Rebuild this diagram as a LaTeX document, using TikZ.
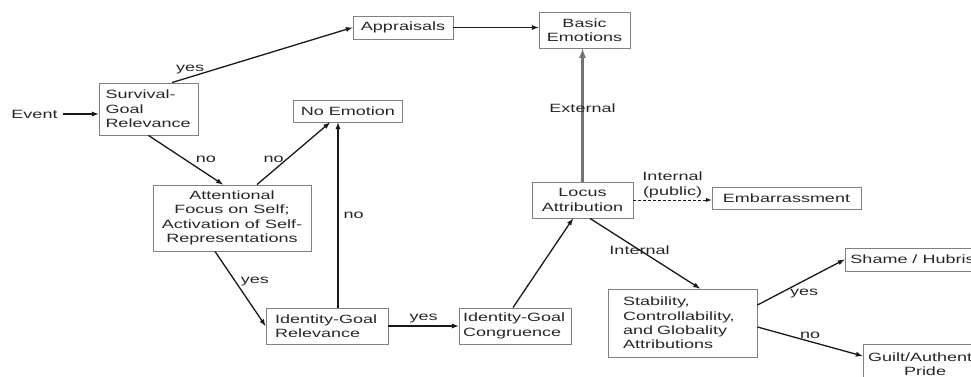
\documentclass[tikz,border=0pt]{standalone}
\usepackage{fontspec}
\setmainfont{Liberation Sans}[FakeStretch=1.5]
\usetikzlibrary{arrows, calc, positioning}

\tikzset{
  box/.style={draw=black!50, line width=0.9pt, rectangle, inner sep=2pt, text=black!85, font=\fontsize{12}{14.3}\selectfont},
  lbl/.style={text=black!85, font=\fontsize{12}{14.3}\selectfont, inner sep=2pt},
  flow/.style={-latex, line width=1.3pt, black!90},
}

\begin{document}
\begin{tikzpicture}[x=1pt, y=-1pt]
\useasboundingbox (0,0) rectangle (971,377);

% boxes
\node [lbl, inner xsep=5pt] (event) at (34.5,114) {Event};
\node [box, minimum width=99pt, minimum height=52pt, text width=86pt, align=left] (surv) at (148.5,109) {Survival-\\Goal\\Relevance};
\node [box, minimum width=100pt, minimum height=23pt] (appr) at (403,27.5) {Appraisals};
\node [box, minimum width=91pt, minimum height=36pt, align=center] (basic) at (584.5,30) {Basic\\Emotions};
\node [box, minimum width=109pt, minimum height=22pt] (noemo) at (348,111) {No Emotion};
\node [box, minimum width=158pt, minimum height=66pt, align=center] (att) at (232,218) {Attentional\\Focus on Self;\\Activation of Self-\\Representations};
\node [box, minimum width=122pt, minimum height=36pt, text width=104pt, align=left] (igr) at (327,326) {Identity-Goal\\Relevance};
\node [box, minimum width=112pt, minimum height=36pt, text width=104pt, align=left] (igc) at (515,326) {Identity-Goal\\Congruence};
\node [box, minimum width=101pt, minimum height=36pt, align=center] (loc) at (582.5,200) {Locus\\Attribution};
\node [box, minimum width=149pt, minimum height=22pt] (emb) at (786.5,198) {Embarrassment};
\node [box, minimum width=149pt, minimum height=68pt, text width=119pt, align=left] (stab) at (682.5,323) {Stability,\\Controllability,\\and Globality\\Attributions};
\node [box, minimum width=135pt, minimum height=23pt] (shame) at (912.5,259.5) {Shame / Hubris};
\node [box, minimum width=124pt, minimum height=40pt, text width=114pt, align=center] (guilt) at (925,364) {Guilt/Authentic\\Pride};

% arrows
\draw [flow] (event.east) -- (event.east -| surv.west);
\draw [flow] ([xshift=23.5pt]surv.north) -- node[lbl, pos=0.1, above] {yes} (appr.west);
\draw [flow] (appr.east) -- (appr.east -| basic.west);
\draw [flow] (surv.south) -- node[lbl, pos=0.6, above right] {no} ([xshift=-9pt]att.north);
\draw [flow] ([xshift=25pt]att.north) -- node[lbl, pos=0.4, left] {no} ([xshift=-18pt]noemo.south);
\draw [flow] ([xshift=11pt]igr.north) -- node[lbl, midway, right, xshift=3pt] {no} ([xshift=11pt]igr.north |- noemo.south);
\draw [flow] ([xshift=-17pt]att.south) -- node[lbl, pos=0.4, right, xshift=3pt] {yes} (igr.west);
\draw [flow] (igr.east) -- node[lbl, midway, above] {yes} (igc.west);
\draw [flow] ([xshift=-2pt]igc.north) -- ([xshift=-9.5pt]loc.south);
\draw [flow, black!55, line width=2.2pt] (loc.north) -- node[lbl, pos=0.55] {External} (loc.north |- basic.south);
\draw [flow, densely dashed, line width=1pt] (loc.east) -- node[lbl, midway, above, align=center] {Internal\\(public)} (loc.east -| emb.west);
\draw [flow] ([xshift=7.5pt]loc.south) -- node[lbl, pos=0.45] {Internal} ([xshift=17.5pt]stab.north);
\draw [flow] ([yshift=18pt]stab.east) -- node[lbl, midway, below, yshift=-4pt, xshift=3pt] {yes} (shame.west);
\draw [flow] ([yshift=-4pt]stab.east) -- node[lbl, midway, above] {no} ([yshift=8pt]guilt.west);
\end{tikzpicture}
\end{document}
